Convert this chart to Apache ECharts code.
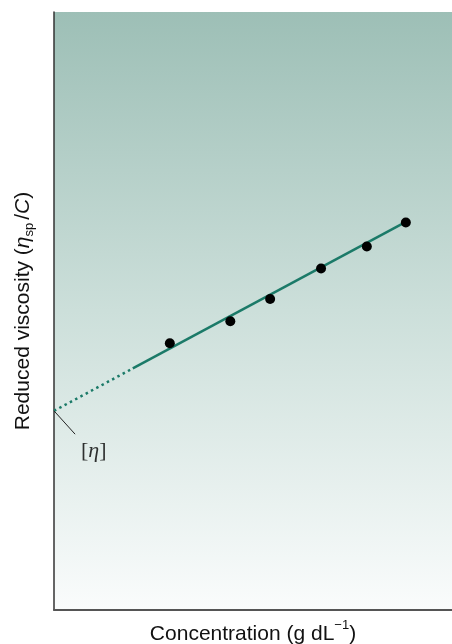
<!DOCTYPE html>
<html><head><meta charset="utf-8">
<script src="https://cdn.jsdelivr.net/npm/echarts@6/dist/echarts.min.js"></script>
<style>html,body{margin:0;padding:0;background:#fff}#c{width:452px;height:644px}</style>
</head><body><div id="c"></div>
<script>
const concentration = [2.91, 4.43, 5.43, 6.71, 7.86, 8.84];
const reducedViscosity = [4.46, 4.83, 5.20, 5.71, 6.08, 6.48];
const fitSolid = [[1.98, 4.04], [8.84, 6.49]];
const fitExtrap = [[0, 3.33], [1.98, 4.04]];
const pointerLine = [[0, 3.33], [0.53, 2.94]];
const intrinsicLabel = [[1.0, 2.66]];
const xMax = 10, yMax = 10;

const chart = echarts.init(document.getElementById('c'), null, {renderer: 'canvas'});
const sans = 'Liberation Sans, Arial, sans-serif';
const serif = 'Liberation Serif, Times New Roman, serif';
chart.setOption({
  animation: false,
  grid: {
    left: 54, top: 12, right: 0, bottom: 34, show: true, borderWidth: 0,
    outerBoundsMode: 'none', containLabel: false,
    backgroundColor: new echarts.graphic.LinearGradient(0, 0, 0, 1, [
      {offset: 0, color: '#9dbfb6'}, {offset: 0.5, color: '#ccdfda'}, {offset: 1, color: '#fafcfc'}
    ])
  },
  xAxis: {
    type: 'value', min: 0, max: xMax,
    axisLine: {show: true, onZero: false, lineStyle: {color: '#555', width: 2}},
    axisTick: {show: false}, axisLabel: {show: false}, splitLine: {show: false},
    name: '{a|Concentration (g dL}{s|−1}{a|)}', nameLocation: 'middle', nameGap: 9,
    nameTextStyle: {rich: {
      a: {fontFamily: sans, fontSize: 21, color: '#111', lineHeight: 26, verticalAlign: 'bottom'},
      s: {fontFamily: sans, fontSize: 13, color: '#111', lineHeight: 26, verticalAlign: 'top'}
    }}
  },
  yAxis: {
    type: 'value', min: 0, max: yMax,
    axisLine: {show: true, onZero: false, lineStyle: {color: '#333', width: 1.5}},
    axisTick: {show: false}, axisLabel: {show: false}, splitLine: {show: false},
    name: '{a|Reduced viscosity (}{i|η}{b|sp}{a|/}{i|C}{a|)}', nameLocation: 'middle', nameGap: 18,
    nameTextStyle: {rich: {
      a: {fontFamily: sans, fontSize: 21, color: '#111', lineHeight: 26},
      i: {fontFamily: sans, fontSize: 21, fontStyle: 'italic', color: '#111', lineHeight: 26},
      b: {fontFamily: sans, fontSize: 13, color: '#111', lineHeight: 26, verticalAlign: 'bottom', padding: [0, 3, 0, 0]}
    }}
  },
  series: [
    {type: 'line', data: fitExtrap, symbol: 'none', lineStyle: {color: '#1b7a68', width: 2.5, type: [2.5, 3.5], cap: 'butt'}, z: 2},
    {type: 'line', data: fitSolid, symbol: 'none', lineStyle: {color: '#1b7a68', width: 2.5}, z: 2},
    {type: 'line', data: pointerLine, symbol: 'none', lineStyle: {color: '#222', width: 1}, z: 2},
    {type: 'scatter', data: concentration.map((x, i) => [x, reducedViscosity[i]]), symbolSize: 10,
     itemStyle: {color: '#000', opacity: 1}, z: 3},
    {type: 'scatter', data: intrinsicLabel, symbolSize: 0, silent: true,
     label: {show: true, position: 'inside', formatter: '{a|[}{i|η}{a|]}',
       rich: {a: {fontFamily: serif, fontSize: 22, color: '#000'}, i: {fontFamily: serif, fontSize: 22, fontStyle: 'italic', color: '#000'}}}}
  ]
});
</script></body></html>
